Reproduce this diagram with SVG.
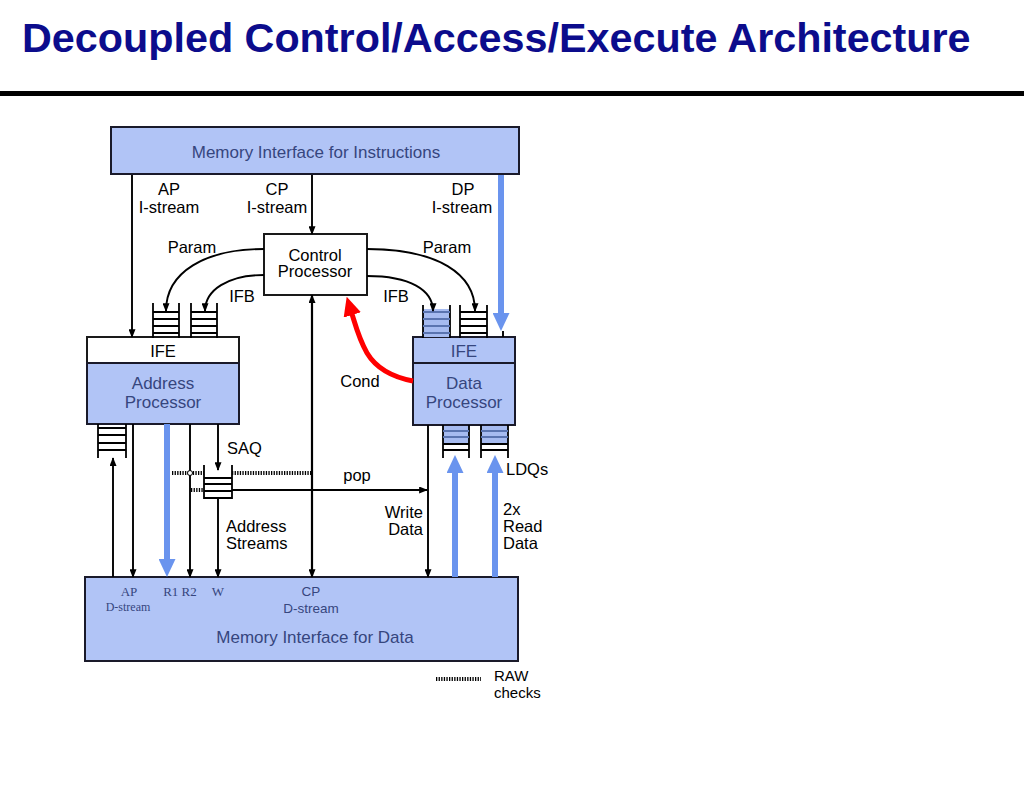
<svg xmlns="http://www.w3.org/2000/svg" width="1024" height="791" viewBox="0 0 1024 791">
<style>
  .lbl { font-family: "Liberation Sans", Arial, sans-serif; font-size: 16.5px; fill: #000; }
  .btxt { font-family: "Liberation Sans", Arial, sans-serif; font-size: 17px; fill: #36467e; text-anchor: middle; }
  .sm { font-size: 13.5px; }
  .ser { font-family: "Liberation Serif", "Times New Roman", serif; font-size: 13px; fill: #36467e; text-anchor: middle; }
  .ser2 { font-size: 12px; }
  .leg { font-size: 15px; }
  .box { fill: #b1c4f6; stroke: #1a1a2a; stroke-width: 2; }
  .wbox { fill: #ffffff; stroke: #1a1a1a; stroke-width: 2; }
  .ln { stroke: #000; stroke-width: 1.9; fill: none; }
  .arr { stroke: #000; stroke-width: 1.9; fill: none; marker-end: url(#ah); }
  .dbl { stroke: #000; stroke-width: 2.2; fill: none; marker-end: url(#ah); marker-start: url(#ah); }
  .blue { stroke: #6a94ee; stroke-width: 6; fill: none; marker-end: url(#bh); }
  .dot { stroke: #000; stroke-width: 4; stroke-dasharray: 1.3 1.3; fill: none; }
  .q { stroke: #000; stroke-width: 1.8; fill: none; }
  .qb { stroke: #5a74b0; stroke-width: 1.8; fill: none; }
</style>
<defs>
  <marker id="ah" viewBox="0 0 10 8" refX="9" refY="4" markerWidth="9" markerHeight="7" markerUnits="userSpaceOnUse" orient="auto-start-reverse">
    <path d="M0,0 L10,4 L0,8 z" fill="#000"/>
  </marker>
  <marker id="bh" viewBox="0 0 18 17" refX="1" refY="8.5" markerWidth="18" markerHeight="17" markerUnits="userSpaceOnUse" orient="auto">
    <path d="M0,0 L18,8.5 L0,17 z" fill="#6a94ee"/>
  </marker>
  <marker id="rh" viewBox="0 0 19 18" refX="1" refY="9" markerWidth="19" markerHeight="18" markerUnits="userSpaceOnUse" orient="auto">
    <path d="M0,0 L19,9 L0,18 z" fill="#ff0000"/>
  </marker>
</defs>
<rect x="0" y="0" width="1024" height="791" fill="#ffffff"/>

<g id="title">
  <text x="22" y="52" font-family="Liberation Sans, Arial, sans-serif" font-weight="bold" font-size="41.3" fill="#0c0c8c">Decoupled Control/Access/Execute Architecture</text>
  <rect x="0" y="91" width="1024" height="5" fill="#000"/>
</g>

<g id="mem-instr">
  <rect class="box" x="111" y="127" width="408" height="47"/>
  <text class="btxt" x="316" y="158">Memory Interface for Instructions</text>
</g>

<g id="control-proc">
  <rect class="wbox" x="264" y="234" width="103" height="61"/>
  <text class="lbl" x="315" y="261" text-anchor="middle">Control</text>
  <text class="lbl" x="315" y="277" text-anchor="middle">Processor</text>
</g>

<g id="addr-proc">
  <rect x="87" y="337" width="152" height="26" fill="#ffffff" stroke="#1a1a1a" stroke-width="2"/>
  <rect class="box" x="87" y="363" width="152" height="61"/>
  <text class="lbl" x="163" y="357" text-anchor="middle">IFE</text>
  <text class="btxt" x="163" y="389">Address</text>
  <text class="btxt" x="163" y="408">Processor</text>
</g>

<g id="data-proc">
  <rect class="box" x="413" y="337" width="102" height="26"/>
  <rect class="box" x="413" y="363" width="102" height="62"/>
  <text class="btxt" x="464" y="357">IFE</text>
  <text class="btxt" x="464" y="389">Data</text>
  <text class="btxt" x="464" y="408">Processor</text>
</g>

<g id="mem-data">
  <rect class="box" x="85" y="577" width="433" height="84"/>
  <text class="ser" x="129" y="596">AP</text>
  <text class="ser ser2" x="128" y="611">D-stream</text>
  <text class="ser" x="180" y="596">R1 R2</text>
  <text class="ser" x="218" y="596">W</text>
  <text class="btxt sm" x="311" y="596">CP</text>
  <text class="btxt sm" x="311" y="613">D-stream</text>
  <text class="btxt" x="315" y="643">Memory Interface for Data</text>
</g>

<g id="queues">
  <path class="q" d="M153,303 V338 M179,303 V338 M153,312 H179 M153,319 H179 M153,326 H179 M153,333 H179"/>
  <path class="q" d="M191,303 V338 M217,303 V338 M191,312 H217 M191,319 H217 M191,326 H217 M191,333 H217"/>
  <rect x="423" y="309" width="27" height="28" fill="#a6bbf0"/>
  <path class="q" d="M423,305 V338 M450,305 V338"/>
  <path class="qb" d="M423,312 H450 M423,319 H450 M423,326 H450 M423,333 H450"/>
  <path class="q" d="M460,305 V338 M487,305 V338 M460,312 H487 M460,319 H487 M460,326 H487 M460,333 H487"/>
  <path class="q" d="M98,424 V458 M126,424 V458 M98,428 H126 M98,435 H126 M98,443 H126 M98,450 H126"/>
  <path class="q" d="M204,465 V498 H232 V465 M204,478 H232 M204,484 H232 M204,491 H232"/>
  <rect x="443" y="426" width="26" height="18" fill="#a6bbf0"/>
  <rect x="481" y="426" width="27" height="18" fill="#a6bbf0"/>
  <path class="q" d="M443,425 V458 M469,425 V458 M443,444 H469 M443,450 H469"/>
  <path class="qb" d="M443,431 H469 M443,437 H469"/>
  <path class="q" d="M481,425 V458 M508,425 V458 M481,444 H508 M481,450 H508"/>
  <path class="qb" d="M481,431 H508 M481,437 H508"/>
</g>

<g id="connectors">
  <line class="arr" x1="132" y1="175" x2="132" y2="337"/>
  <line class="arr" x1="312" y1="175" x2="312" y2="234"/>
  <line class="blue" x1="501" y1="175" x2="501" y2="314"/>
  <line class="ln" x1="503" y1="331" x2="503" y2="337"/>
  <path class="arr" d="M264,249 C205,249 166,272 166,311"/>
  <path class="arr" d="M264,275 C228,275 205,290 205,311"/>
  <path class="arr" d="M367,249 C438,249 475,274 475,311"/>
  <path class="arr" d="M367,276 C410,276 433,290 433,311"/>
  <path d="M413,381 C392,377 376,368 367,353 C359,339 356,327 352,314" stroke="#ff0000" stroke-width="5" fill="none" stroke-linejoin="round" marker-end="url(#rh)"/>
  <line class="dbl" x1="312" y1="295" x2="312" y2="577"/>
  <line class="arr" x1="113" y1="577" x2="113" y2="458"/>
  <line class="arr" x1="133" y1="424" x2="133" y2="577"/>
  <line class="blue" x1="167" y1="424" x2="167" y2="560"/>
  <line class="arr" x1="190" y1="424" x2="190" y2="577"/>
  <line class="arr" x1="218" y1="424" x2="218" y2="470"/>
  <line class="arr" x1="218" y1="498" x2="218" y2="577"/>
  <line class="dot" x1="172" y1="473" x2="204" y2="473"/>
  <line class="dot" x1="232" y1="473" x2="311" y2="473"/>
  <line class="dot" x1="191" y1="490" x2="204" y2="490"/>
  <circle cx="190" cy="473" r="2.5" fill="#ffffff" stroke="#000" stroke-width="1"/>
  <line class="arr" x1="232" y1="490" x2="427" y2="490"/>
  <line class="arr" x1="428" y1="425" x2="428" y2="577"/>
  <line class="blue" x1="455" y1="577" x2="455" y2="472"/>
  <line class="blue" x1="495" y1="577" x2="495" y2="472"/>
</g>

<g id="labels">
  <text class="lbl" x="169" y="195" text-anchor="middle">AP</text>
  <text class="lbl" x="169" y="213" text-anchor="middle">I-stream</text>
  <text class="lbl" x="277" y="195" text-anchor="middle">CP</text>
  <text class="lbl" x="277" y="213" text-anchor="middle">I-stream</text>
  <text class="lbl" x="463" y="195" text-anchor="middle">DP</text>
  <text class="lbl" x="462" y="213" text-anchor="middle">I-stream</text>
  <text class="lbl" x="192" y="253" text-anchor="middle">Param</text>
  <text class="lbl" x="447" y="253" text-anchor="middle">Param</text>
  <text class="lbl" x="242" y="302" text-anchor="middle">IFB</text>
  <text class="lbl" x="396" y="302" text-anchor="middle">IFB</text>
  <text class="lbl" x="360" y="387" text-anchor="middle">Cond</text>
  <text class="lbl" x="227" y="454">SAQ</text>
  <text class="lbl" x="357" y="481" text-anchor="middle">pop</text>
  <text class="lbl" x="226" y="532">Address</text>
  <text class="lbl" x="226" y="549">Streams</text>
  <text class="lbl" x="423" y="518" text-anchor="end">Write</text>
  <text class="lbl" x="423" y="535" text-anchor="end">Data</text>
  <text class="lbl" x="503" y="515">2x</text>
  <text class="lbl" x="503" y="532">Read</text>
  <text class="lbl" x="503" y="549">Data</text>
  <text class="lbl" x="506" y="475">LDQs</text>
</g>

<g id="legend">
  <line class="dot" x1="436" y1="679" x2="481" y2="679"/>
  <text class="lbl leg" x="494" y="681">RAW</text>
  <text class="lbl leg" x="494" y="698">checks</text>
</g>
</svg>
